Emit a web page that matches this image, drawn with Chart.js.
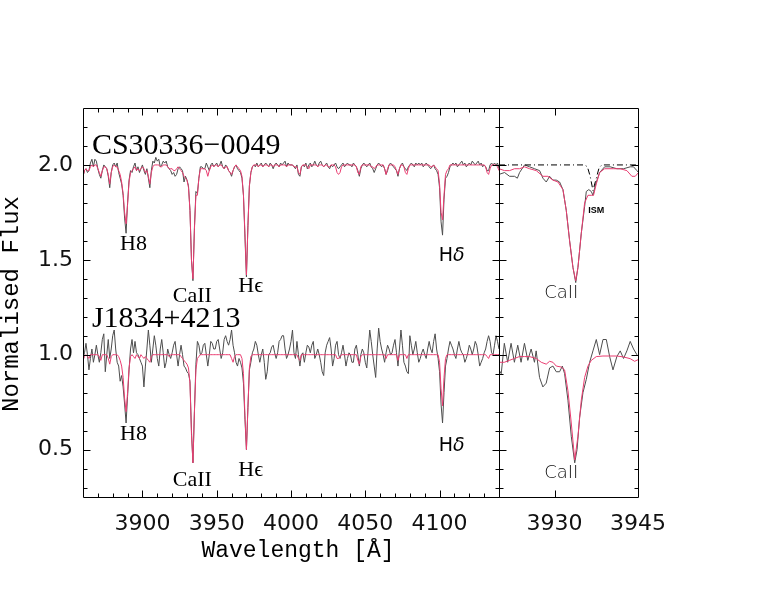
<!DOCTYPE html>
<html><head><meta charset="utf-8">
<script src="https://cdn.jsdelivr.net/npm/chart.js@4/dist/chart.umd.min.js"></script>
<style>
html,body{margin:0;padding:0;background:#fff;}
#wrap{position:relative;width:763px;height:590px;overflow:hidden;}
canvas{position:absolute;left:0;top:0;}
</style></head><body>
<div id="wrap"><canvas id="left" width="763" height="590"></canvas><canvas id="right" width="763" height="590"></canvas></div>
<script>
// ---------------- DATA ----------------
// Left panel: spectra sampled every 1 Å from 3860 Å to 4140 Å
const waveStart = 3860, waveStep = 1;
const obs1 = [ // CS30336-0049 observed (offset +1)
1.94,1.97,1.98,1.96,1.97,2.01,2.03,1.99,2.03,2.02,
1.98,1.95,1.93,1.97,2.00,1.99,1.98,1.94,1.88,1.96,
2.00,2.01,1.99,2.01,1.96,1.93,1.90,1.84,1.72,1.64,
1.80,1.92,1.97,1.96,1.99,2.01,1.97,1.99,1.96,1.98,
2.00,1.97,1.95,1.98,1.93,1.88,1.97,2.02,2.01,2.04,
2.02,2.03,1.99,2.00,2.02,2.01,2.02,1.99,1.98,1.97,
1.95,1.96,1.94,1.95,1.98,1.99,1.98,1.97,1.91,1.94,
1.92,1.89,1.76,1.50,1.39,1.67,1.86,1.85,1.93,1.99,
1.99,1.98,1.98,2.01,1.99,1.97,2.00,2.01,1.99,2.00,
2.01,1.99,2.00,2.02,1.99,1.98,2.00,1.99,1.97,1.96,
1.94,1.97,1.99,2.00,1.98,1.97,1.96,1.93,1.84,1.62,
1.41,1.68,1.89,1.96,1.99,2.00,1.99,2.01,1.99,2.00,
2.01,1.99,2.00,2.01,2.00,1.99,2.01,2.00,1.98,2.00,
2.01,2.00,1.99,2.01,2.00,2.01,2.02,1.99,2.01,2.00,
2.00,2.00,1.99,1.98,2.00,1.95,1.94,1.99,2.00,1.99,
2.01,1.98,2.00,2.01,1.99,2.00,2.02,2.00,1.99,2.01,
2.02,2.00,1.99,2.00,2.01,1.99,1.98,2.00,1.99,2.00,
2.01,1.99,1.98,1.99,2.00,2.01,1.99,2.00,2.01,2.00,
2.00,1.99,2.01,2.00,1.99,1.97,1.94,1.98,2.00,2.01,
2.00,1.99,2.00,2.01,1.99,1.98,1.96,1.98,2.00,2.01,
2.00,1.99,2.00,1.98,1.95,1.97,2.00,2.01,2.00,1.99,
1.98,1.97,1.94,1.98,2.00,2.01,1.99,1.98,1.97,1.99,
2.00,2.01,2.00,1.99,2.01,2.00,2.01,2.00,2.01,1.99,
2.00,2.01,2.00,1.99,1.98,1.99,2.00,1.98,1.97,1.95,
1.88,1.70,1.63,1.82,1.93,1.94,1.96,1.99,2.00,2.01,
2.00,2.01,1.99,2.00,2.01,2.02,2.00,2.01,1.99,2.00,
2.01,2.00,2.02,2.01,2.00,2.01,2.02,2.00,2.01,1.99,
2.00,1.99,1.97,1.97,2.00,2.01,2.00,2.01,2.00,2.01,
1.98];
const mod1 = [ // CS30336-0049 model
1.94,1.97,1.98,1.97,1.97,1.99,2.00,1.99,2.00,2.00,
1.98,1.96,1.94,1.97,1.99,1.99,1.98,1.95,1.90,1.96,
1.99,2.00,1.99,1.99,1.97,1.95,1.91,1.85,1.75,1.69,
1.79,1.91,1.96,1.97,1.98,1.99,1.97,1.98,1.97,1.98,
1.99,1.98,1.96,1.97,1.94,1.90,1.96,1.99,2.00,2.00,
2.00,2.00,1.99,1.99,2.00,2.00,2.00,1.99,1.98,1.98,
1.98,1.97,1.97,1.98,1.99,1.98,1.97,1.96,1.94,1.93,
1.92,1.88,1.76,1.50,1.40,1.66,1.84,1.84,1.93,1.98,
1.98,1.98,1.98,1.97,1.94,1.97,1.99,2.00,1.99,2.00,
2.00,1.99,2.00,2.00,1.99,1.98,1.99,1.99,1.97,1.96,
1.95,1.97,1.99,2.00,1.99,1.98,1.97,1.94,1.84,1.64,
1.42,1.67,1.89,1.96,1.99,2.00,2.00,2.00,1.99,2.00,
2.00,1.99,2.00,2.00,2.00,1.99,2.00,2.00,1.99,2.00,
2.00,2.00,1.99,2.00,2.00,2.00,2.00,1.99,2.00,2.00,
2.00,2.00,1.99,1.99,1.99,1.96,1.95,1.99,2.00,2.00,
2.00,1.99,1.98,2.00,2.00,2.00,2.00,2.00,1.99,2.00,
2.00,2.00,1.99,2.00,2.00,1.99,1.99,2.00,2.00,2.00,
1.99,1.96,1.95,1.96,1.99,2.00,2.00,2.00,2.00,2.00,
2.00,2.00,2.00,2.00,1.99,1.96,1.95,1.99,2.00,2.00,
2.00,2.00,2.00,2.00,1.99,1.99,1.98,1.99,2.00,2.00,
2.00,2.00,2.00,1.98,1.95,1.98,2.00,2.00,2.00,2.00,
1.99,1.97,1.95,1.98,2.00,2.00,1.99,1.96,1.95,1.98,
2.00,2.00,2.00,2.00,2.00,2.00,2.00,2.00,2.00,2.00,
2.00,2.00,2.00,2.00,1.99,1.99,2.00,1.99,1.98,1.97,
1.90,1.75,1.71,1.84,1.95,1.97,1.98,2.00,2.00,2.00,
2.00,2.00,2.00,2.00,2.00,2.00,2.00,2.00,2.00,2.00,
2.00,2.00,2.00,2.00,2.00,2.00,2.00,2.00,2.00,2.00,
2.00,1.99,1.96,1.95,1.98,2.00,2.00,2.00,2.00,1.99,
1.97];
const obs2 = [ // J1834+4213 observed
0.98,1.01,1.06,1.00,0.92,0.98,1.03,0.96,1.00,1.05,
1.00,0.96,1.01,1.08,1.11,0.91,1.00,1.08,0.98,1.03,
1.10,1.13,1.03,0.96,0.94,0.86,0.89,0.83,0.74,0.64,
0.78,0.92,1.03,1.08,1.01,1.07,1.01,1.00,0.98,0.96,
0.94,0.83,0.94,1.03,1.13,1.05,0.96,1.03,1.10,1.05,
0.98,0.94,1.03,1.08,1.01,0.93,0.96,1.03,1.00,0.98,
1.01,1.05,1.07,1.00,0.94,1.00,1.05,1.00,0.94,0.93,
0.91,0.90,0.86,0.60,0.43,0.70,0.95,1.07,1.05,1.00,
1.01,1.05,1.06,1.00,0.94,1.00,1.07,1.06,1.03,1.03,
1.07,1.08,1.03,0.98,1.01,1.08,1.10,1.07,1.05,1.08,
1.13,1.05,1.01,0.96,0.94,0.98,0.96,0.93,0.85,0.66,
0.50,0.72,0.92,0.96,1.01,1.03,1.07,1.05,1.00,0.96,
1.00,1.03,0.96,0.87,0.91,1.00,1.01,1.04,1.05,1.01,
0.98,1.01,1.07,1.08,1.10,1.10,1.03,0.98,1.00,1.03,
1.07,1.13,1.01,0.98,1.07,1.00,0.94,1.00,1.01,0.96,
1.01,1.05,1.04,1.01,1.05,1.07,0.98,1.00,1.03,1.00,
0.96,0.91,0.89,1.01,1.05,1.07,1.09,1.03,0.94,0.98,
1.05,1.07,1.00,0.98,1.01,1.05,1.00,0.94,0.98,1.01,
1.00,0.96,0.96,1.03,1.05,1.00,0.94,1.00,1.03,1.01,
0.96,0.93,1.03,1.13,1.07,1.00,0.94,0.88,1.03,1.14,
1.07,1.03,1.00,0.96,1.01,1.05,1.03,1.00,1.01,1.05,
1.08,1.01,0.94,1.03,1.13,1.05,0.96,0.94,0.91,0.90,
1.10,1.05,1.00,1.03,1.07,1.01,0.96,0.98,1.01,1.03,
1.00,0.98,1.03,1.07,1.03,1.01,1.07,1.11,1.03,0.98,
0.91,0.74,0.64,0.80,0.94,0.98,1.03,1.07,1.05,1.03,
1.00,0.98,1.03,1.07,1.03,1.01,1.00,0.96,0.98,1.01,
1.05,1.03,1.00,1.03,1.07,1.05,1.00,0.94,0.96,0.98,
1.01,1.03,1.07,1.10,1.07,1.01,1.00,1.05,1.10,1.07,
1.03];
const mod2 = [ // J1834+4213 model
0.97,0.99,1.00,0.99,0.98,1.00,1.00,1.00,1.00,1.00,
1.00,0.99,0.97,1.00,1.00,1.00,1.00,0.98,0.95,0.99,
1.00,1.00,1.00,1.00,0.99,0.97,0.94,0.88,0.77,0.70,
0.80,0.93,0.99,1.00,0.99,0.98,1.00,0.99,0.98,1.00,
0.99,0.98,0.99,0.98,0.97,0.96,0.99,1.00,1.00,1.00,
1.00,1.00,1.00,1.00,1.00,1.00,1.00,1.00,0.99,1.00,
1.00,1.00,1.00,1.00,1.00,1.00,0.99,0.98,0.97,0.96,
0.95,0.93,0.85,0.58,0.43,0.70,0.92,0.98,0.99,1.00,
1.00,1.00,1.00,1.00,1.00,1.00,1.00,1.00,1.00,1.00,
1.00,1.00,1.00,1.00,1.00,1.00,1.00,1.00,1.00,1.00,
0.98,0.96,0.99,1.00,1.00,1.00,1.00,0.98,0.90,0.68,
0.50,0.72,0.93,0.99,1.00,1.00,1.00,1.00,1.00,1.00,
1.00,1.00,1.00,1.00,1.00,1.00,1.00,1.00,1.00,1.00,
1.00,1.00,1.00,1.00,1.00,1.00,1.00,1.00,1.00,1.00,
1.00,1.00,1.00,1.00,1.00,0.98,0.97,1.00,1.00,1.00,
1.00,1.00,1.00,1.00,1.00,1.00,1.00,1.00,1.00,1.00,
1.00,1.00,1.00,1.00,1.00,1.00,1.00,1.00,1.00,1.00,
1.00,0.98,0.98,0.99,1.00,1.00,1.00,1.00,1.00,1.00,
1.00,1.00,1.00,1.00,1.00,0.97,0.95,0.99,1.00,1.00,
1.00,1.00,1.00,1.00,1.00,1.00,1.00,1.00,1.00,1.00,
1.00,1.00,1.00,1.00,0.98,1.00,1.00,1.00,1.00,1.00,
1.00,1.00,0.97,1.00,1.00,1.00,1.00,1.00,0.98,1.00,
1.00,1.00,1.00,1.00,1.00,1.00,1.00,1.00,1.00,1.00,
1.00,1.00,1.00,1.00,1.00,1.00,1.00,1.00,1.00,1.00,
0.96,0.82,0.73,0.88,0.98,1.00,1.00,1.00,1.00,1.00,
1.00,1.00,1.00,1.00,1.00,1.00,1.00,1.00,1.00,1.00,
1.00,1.00,1.00,1.00,1.00,1.00,1.00,1.00,1.00,1.00,
1.00,1.00,0.99,0.98,1.00,1.00,1.00,1.00,1.00,1.00,
1.00];

// Right panel (Ca II K zoom), read point by point
const zObs1Wave = [3920.0,3921.0,3921.9,3922.8,3923.3,3923.7,3924.6,3925.5,3926.4,3927.3,3927.9,3928.5,3929.1,3929.7,3930.3,3930.9,3931.5,3932.1,3932.7,3933.3,3933.8,3934.2,3934.8,3935.4,3935.7,3936.15,3936.6,3936.9,3937.4,3938.1,3939.0,3940.0,3941.2,3942.4,3943.6,3944.2,3944.8,3945.1];
const zObs1Flux = [1.95,1.96,1.94,1.94,1.93,1.96,2.00,1.99,1.98,1.97,1.93,1.91,1.94,1.92,1.92,1.91,1.87,1.76,1.60,1.46,1.38,1.46,1.64,1.78,1.86,1.87,1.86,1.84,1.90,1.96,1.99,1.99,1.98,1.98,1.99,1.99,1.97,1.96];
const zMod1Wave = [3920.0,3921.0,3921.9,3922.8,3923.7,3924.6,3925.5,3926.7,3927.9,3928.8,3929.7,3930.6,3931.5,3932.1,3932.7,3933.3,3933.8,3934.2,3934.8,3935.4,3936.0,3936.6,3937.0,3937.5,3938.1,3939.0,3940.6,3941.8,3943.0,3943.9,3944.5,3945.1];
const zMod1Flux = [1.98,1.97,1.97,1.98,1.98,1.99,1.98,1.97,1.94,1.94,1.92,1.91,1.87,1.76,1.60,1.46,1.39,1.46,1.64,1.80,1.84,1.84,1.84,1.90,1.96,1.98,1.98,1.98,1.97,1.94,1.94,1.96];
const ismWave = [3920.0,3935.4,3935.9,3936.4,3936.9,3937.5,3938.0,3938.5,3945.0];
const ismFlux = [2.00,2.00,1.99,1.94,1.865,1.93,1.985,2.00,2.00];
const zObs2Wave = [3920.0,3920.4,3920.96,3921.56,3922.17,3922.77,3923.37,3923.97,3924.58,3925.18,3925.78,3926.38,3926.68,3927.29,3927.89,3928.49,3929.1,3929.7,3930.3,3930.9,3931.39,3931.8,3932.4,3933.0,3933.62,3934.04,3934.5,3935.1,3935.7,3936.3,3936.9,3937.5,3938.1,3938.7,3939.3,3939.9,3940.5,3941.2,3941.8,3942.4,3943.0,3943.6,3944.2,3944.8,3945.1];
const zObs2Flux = [0.92,0.90,1.06,0.96,1.06,0.96,1.05,0.96,1.06,0.97,1.03,0.96,1.02,0.88,0.83,0.85,0.93,0.94,0.91,0.91,0.94,0.90,0.76,0.57,0.43,0.50,0.67,0.80,0.87,0.96,1.02,1.08,1.00,1.08,1.08,0.99,0.92,0.99,1.02,0.98,1.02,1.07,1.03,1.00,0.99];
const zMod2Wave = [3920.05,3920.96,3921.86,3922.77,3923.67,3924.58,3925.48,3926.68,3927.6,3928.49,3929.1,3929.7,3930.3,3931.2,3931.8,3932.4,3933.0,3933.62,3934.2,3934.8,3935.4,3936.0,3936.6,3937.5,3938.7,3939.9,3941.2,3942.4,3943.6,3944.4,3945.1];
const zMod2Flux = [0.96,0.96,0.97,0.98,0.99,0.99,0.99,0.98,0.96,0.95,0.965,0.96,0.94,0.935,0.92,0.81,0.64,0.445,0.57,0.76,0.88,0.94,0.97,0.99,0.993,0.993,0.993,0.988,0.979,0.965,0.975];

// Tick labels
const leftXTickLabels = [3900,3950,4000,4050,4100];
const rightXTickLabels = [3930,3945];
const yTickLabels = [0.5,1.0,1.5,2.0];

// ---------------- STYLE ----------------
const GREY = '#4d4d4d', PINK = '#ea3d71';
const SERIF = '"Liberation Serif", "Times New Roman", serif';
const MONO = '"Liberation Mono", "Courier New", monospace';
const SANS = '"DejaVu Sans", sans-serif';
const tickFont = {family: '"DejaVu Sans"', size: 22, weight: 'normal'};

function pts(xs, ys){ return xs.map((x,i)=>({x:x, y:ys[i]})); }
const gridWave = obs1.map((_, i) => waveStart + i * waveStep);

const panelPlugin = {
  id: 'panel',
  afterDraw(chart, args, opts) {
    const ctx = chart.ctx, a = chart.chartArea;
    const xs = chart.scales.x, ys = chart.scales.y;
    const L = Math.round(a.left)+0.5, R = Math.round(a.right)+0.5, T = Math.round(a.top)+0.5, B = Math.round(a.bottom)+0.5;
    ctx.save();
    ctx.strokeStyle = '#000'; ctx.lineWidth = 1;
    ctx.beginPath();
    ctx.rect(L, T, R-L, B-T);
    for (const t of opts.xTicks) {
      const px = Math.round(xs.getPixelForValue(t.v))+0.5;
      const len = t.major ? 7 : 4;
      ctx.moveTo(px, B); ctx.lineTo(px, B-len);
      ctx.moveTo(px, T); ctx.lineTo(px, T+len);
    }
    for (let i = 3; i <= 22; i++) {
      const py = Math.round(ys.getPixelForValue(i/10))+0.5;
      const len = (i % 5 === 0) ? 7 : 4;
      ctx.moveTo(L, py); ctx.lineTo(L+len, py);
      ctx.moveTo(R, py); ctx.lineTo(R-len, py);
    }
    ctx.stroke();
    ctx.textBaseline = 'alphabetic';
    for (const lb of opts.labels) {
      const px = xs.getPixelForValue(lb.x), py = ys.getPixelForValue(lb.y);
      ctx.fillStyle = lb.color || '#000';
      if (lb.italicTail) {
        ctx.font = lb.font;
        const w1 = ctx.measureText(lb.text).width;
        ctx.font = 'italic ' + lb.font;
        const w2 = ctx.measureText(lb.italicTail).width;
        const x0 = px - (w1+w2)/2;
        ctx.textAlign = 'left';
        ctx.font = lb.font; ctx.fillText(lb.text, x0, py);
        ctx.font = 'italic ' + lb.font; ctx.fillText(lb.italicTail, x0 + w1, py);
      } else {
        ctx.font = lb.font;
        ctx.textAlign = lb.align || 'center';
        ctx.fillText(lb.text, px, py);
      }
    }
    if (opts.titles) {
      ctx.fillStyle = '#000';
      ctx.textAlign = 'center'; ctx.textBaseline = 'middle';
      ctx.font = '23px ' + MONO;
      ctx.fillText('Wavelength [Å]', (a.left+a.right)/2 + 7, a.bottom + 54);
      ctx.save();
      ctx.font = '24px ' + MONO;
      ctx.translate(12, (a.top+a.bottom)/2 + 1.5);
      ctx.rotate(-Math.PI/2);
      ctx.fillText('Normalised Flux', 0, 0);
      ctx.restore();
    }
    ctx.restore();
  }
};

function lineDs(data, color, order, dash) {
  return {data: data, borderColor: color, borderWidth: 1, pointRadius: 0, tension: 0, order: order, borderDash: dash || []};
}

const leftXTicks = [];
for (let v = 3870; v <= 4130; v += 10) leftXTicks.push({v: v, major: v % 50 === 0});

const serif22 = '22px ' + SERIF;
const nameFont = '30px ' + SERIF;
new Chart(document.getElementById('left'), {
  type: 'line',
  data: {datasets: [
    lineDs(pts(gridWave, mod1), PINK, 0),
    lineDs(pts(gridWave, obs1), GREY, 1),
    lineDs(pts(gridWave, mod2), PINK, 0),
    lineDs(pts(gridWave, obs2), GREY, 1)
  ]},
  options: {
    responsive: false, animation: false, devicePixelRatio: 1,
    layout: {padding: {left: 0, right: 264, top: 108, bottom: 0}},
    plugins: {
      legend: {display: false}, tooltip: {enabled: false},
      panel: {
        titles: true,
        xTicks: leftXTicks,
        labels: [
          {text: 'CS30336\u22120049', x: 3866, y: 2.06, font: nameFont, align: 'left'},
          {text: 'J1834+4213', x: 3866, y: 1.145, font: nameFont, align: 'left'},
          {text: 'H8', x: 3894, y: 1.55, font: serif22},
          {text: 'H8', x: 3894, y: 0.55, font: serif22},
          {text: 'CaII', x: 3933.6, y: 1.28, font: serif22},
          {text: 'CaII', x: 3933.6, y: 0.31, font: serif22},
          {text: 'H\u03f5', x: 3972.9, y: 1.33, font: serif22},
          {text: 'H\u03f5', x: 3972.9, y: 0.36, font: serif22},
          {text: 'H', italicTail: '\u03b4', x: 4108.1, y: 1.494, font: '19px ' + SANS},
          {text: 'H', italicTail: '\u03b4', x: 4108.1, y: 0.494, font: '19px ' + SANS}
        ]
      }
    },
    scales: {
      x: {type: 'linear', min: 3860, max: 4140,
          grid: {display: false, drawTicks: false}, border: {display: false},
          afterBuildTicks: s => { s.ticks = leftXTickLabels.map(v => ({value: v})); },
          ticks: {autoSkip: false, maxRotation: 0, padding: 14, color: '#111', font: tickFont, callback: v => String(v)},
          afterFit: s => { s.height = 93; }},
      y: {type: 'linear', min: 0.25, max: 2.3,
          grid: {display: false, drawTicks: false}, border: {display: false},
          afterBuildTicks: s => { s.ticks = yTickLabels.map(v => ({value: v})); },
          ticks: {autoSkip: false, padding: 10, color: '#111', font: tickFont, callback: v => Number(v).toFixed(1)},
          afterFit: s => { s.width = 83; }}
    }
  },
  plugins: [panelPlugin]
});

new Chart(document.getElementById('right'), {
  type: 'line',
  data: {datasets: [
    lineDs(pts(ismWave, ismFlux), '#000', 0, [6,3,1,3]),
    lineDs(pts(zMod1Wave, zMod1Flux), PINK, 1),
    lineDs(pts(zObs1Wave, zObs1Flux), GREY, 2),
    lineDs(pts(zMod2Wave, zMod2Flux), PINK, 1),
    lineDs(pts(zObs2Wave, zObs2Flux), GREY, 2)
  ]},
  options: {
    responsive: false, animation: false, devicePixelRatio: 1,
    layout: {padding: {left: 499, right: 125, top: 108, bottom: 0}},
    plugins: {
      legend: {display: false}, tooltip: {enabled: false},
      panel: {
        titles: false,
        xTicks: [{v: 3930, major: true}],
        labels: [
          {text: 'CaII', x: 3931.2, y: 1.30, font: '200 18px ' + SANS, color: '#111'},
          {text: 'CaII', x: 3931.2, y: 0.35, font: '200 18px ' + SANS, color: '#111'},
          {text: 'ISM', x: 3937.5, y: 1.746, font: 'bold 9px "Liberation Sans", sans-serif'}
        ]
      }
    },
    scales: {
      x: {type: 'linear', min: 3920, max: 3945,
          grid: {display: false, drawTicks: false}, border: {display: false},
          afterBuildTicks: s => { s.ticks = rightXTickLabels.map(v => ({value: v})); },
          ticks: {autoSkip: false, maxRotation: 0, padding: 14, color: '#111', font: tickFont, callback: v => String(v)},
          afterFit: s => { s.height = 93; }},
      y: {type: 'linear', min: 0.25, max: 2.3, display: false}
    }
  },
  plugins: [panelPlugin]
});
</script>
</body></html>
